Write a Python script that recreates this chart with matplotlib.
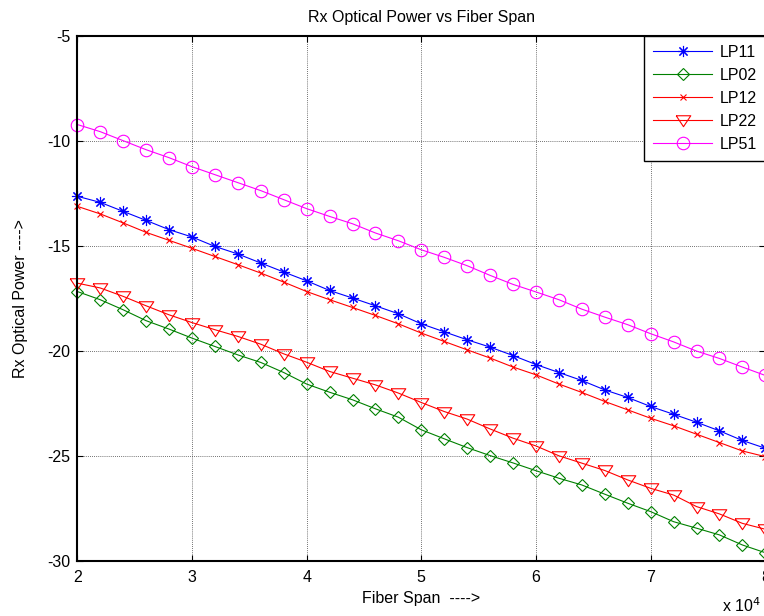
import matplotlib
matplotlib.use('Agg')
import matplotlib.pyplot as plt
from matplotlib.ticker import FuncFormatter, MultipleLocator

plt.rcParams['font.family'] = ['Liberation Sans', 'DejaVu Sans']
plt.rcParams['axes.unicode_minus'] = False

# --- データ ---
fiber_span = [20000, 22000, 24000, 26000, 28000, 30000, 32000, 34000, 36000, 38000,
              40000, 42000, 44000, 46000, 48000, 50000, 52000, 54000, 56000, 58000,
              60000, 62000, 64000, 66000, 68000, 70000, 72000, 74000, 76000, 78000,
              80000]

lp11 = [-12.63, -12.92, -13.35, -13.78, -14.22, -14.57, -15.02, -15.38, -15.81, -16.24,
        -16.66, -17.12, -17.48, -17.85, -18.23, -18.71, -19.09, -19.47, -19.82, -20.22,
        -20.65, -21.03, -21.41, -21.86, -22.22, -22.65, -23.02, -23.40, -23.81, -24.27,
        -24.64]
lp02 = [-17.17, -17.56, -18.04, -18.56, -18.96, -19.39, -19.79, -20.19, -20.55, -21.03,
        -21.58, -21.97, -22.33, -22.76, -23.16, -23.76, -24.19, -24.61, -24.99, -25.34,
        -25.71, -26.07, -26.39, -26.83, -27.26, -27.66, -28.14, -28.45, -28.77, -29.25,
        -29.62]
lp12 = [-13.11, -13.47, -13.90, -14.35, -14.73, -15.11, -15.50, -15.89, -16.29, -16.72,
        -17.17, -17.56, -17.93, -18.31, -18.71, -19.15, -19.55, -19.95, -20.34, -20.77,
        -21.14, -21.58, -21.98, -22.41, -22.81, -23.21, -23.57, -23.97, -24.37, -24.77,
        -25.04]
lp22 = [-16.77, -17.00, -17.40, -17.85, -18.28, -18.65, -18.99, -19.31, -19.68, -20.14,
        -20.54, -20.98, -21.30, -21.62, -22.01, -22.46, -22.89, -23.25, -23.72, -24.16,
        -24.53, -25.00, -25.35, -25.70, -26.15, -26.55, -26.87, -27.42, -27.77, -28.22,
        -28.50]
lp51 = [-9.21, -9.55, -9.98, -10.41, -10.79, -11.22, -11.60, -11.98, -12.36, -12.79,
        -13.22, -13.59, -13.94, -14.38, -14.75, -15.18, -15.54, -15.94, -16.40, -16.83,
        -17.19, -17.56, -18.01, -18.39, -18.75, -19.18, -19.57, -20.01, -20.36, -20.77,
        -21.17]

FS = 11.5

fig = plt.figure(figsize=(7.64, 6.16), dpi=100)
# 右端は図の端ぎりぎり（元図と同じ）
ax = fig.add_axes([77.3 / 764, 1 - 560.7 / 616, 688 / 764, 524.5 / 616])

# MATLAB風の下向き三角（少し横長）
tri = [(-1, 0.65), (1, 0.65), (0, -0.85), (-1, 0.65)]
kw = dict(lw=0.8, mew=0.8, clip_on=False)
ax.plot(fiber_span, lp11, color='#0000FF', marker=(8, 2, 0), ms=8, label='LP11', **kw)
ax.plot(fiber_span, lp02, color='#008000', marker='D', ms=6.3, mfc='none', label='LP02', **kw)
ax.plot(fiber_span, lp12, color='#FF0000', marker='x', ms=4.5, label='LP12', **kw)
ax.plot(fiber_span, lp22, color='#FF0000', marker=tri, ms=10.5, mfc='none', label='LP22', **kw)
ax.plot(fiber_span, lp51, color='#FF00FF', marker='o', ms=9, mfc='none', label='LP51', **kw)

ax.set_xlim(20000, 80000)
ax.set_ylim(-30, -5)
ax.xaxis.set_major_locator(MultipleLocator(10000))
ax.yaxis.set_major_locator(MultipleLocator(5))
ax.xaxis.set_major_formatter(FuncFormatter(lambda v, p: f'{v / 1e4:g}'))

ax.grid(True, color='#444444', linestyle=(0, (1, 1.5)), linewidth=0.6)
ax.tick_params(direction='in', length=4, width=0.8, top=True, right=True,
               labelsize=FS, colors='black')
ax.tick_params(axis='x', pad=7)
ax.tick_params(axis='y', pad=5)
for s in ax.spines.values():
    s.set_linewidth(1.5)

ax.set_title('Rx Optical Power vs Fiber Span', fontsize=FS, pad=10)
ax.set_xlabel('Fiber Span  ---->', fontsize=FS, labelpad=4)
ax.set_ylabel('Rx Optical Power ---->', fontsize=FS, labelpad=14)
fig.text(722 / 764, 1 - 612 / 616, 'x 10$^{4}$', fontsize=FS, ha='left', va='baseline')

leg = ax.legend(loc='upper right', fontsize=FS, borderaxespad=0, fancybox=False,
                framealpha=1, edgecolor='black', handlelength=3.7, handletextpad=0.45,
                labelspacing=0.5, borderpad=0.55)
leg.get_frame().set_linewidth(1.0)

fig.savefig('out.png', dpi=100)
